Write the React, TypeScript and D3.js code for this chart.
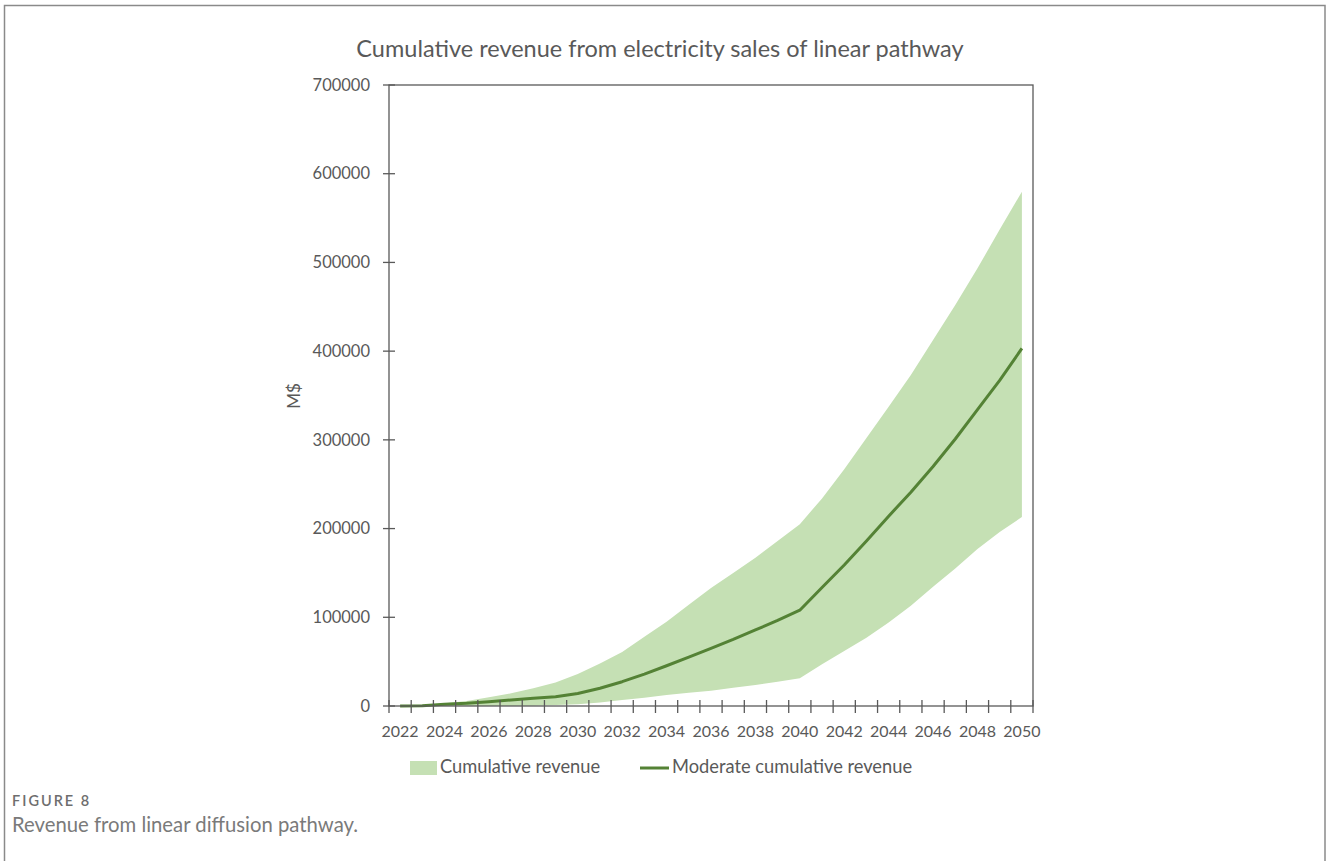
import React from "react";
import * as d3 from "d3";

const years: number[] = [
  2022, 2023, 2024, 2025, 2026, 2027, 2028, 2029, 2030, 2031, 2032, 2033, 2034, 2035, 2036,
  2037, 2038, 2039, 2040, 2041, 2042, 2043, 2044, 2045, 2046, 2047, 2048, 2049, 2050,
];
const upperRevenue: number[] = [
  0, 800, 3000, 5600, 9800, 14300, 20000, 26500, 36000, 48000, 61000, 78000, 95000, 114000, 133000,
  150000, 167000, 186000, 205000, 234000, 267000, 302000, 337400, 373000, 412600, 452000, 493400, 537000, 579800,
];
const lowerRevenue: number[] = [
  0, 0, 0, 0, 0, 0, 300, 1000, 2000, 4000, 6800, 9400, 12400, 15000, 17300,
  20600, 23700, 27400, 31200, 47000, 62000, 77000, 94000, 113000, 134500, 155000, 177000, 196000, 213000,
];
const moderateRevenue: number[] = [
  0, 300, 1900, 3000, 4900, 6800, 8600, 10500, 14000, 20000, 27400, 36000, 45400, 55000, 65000,
  75000, 85700, 96500, 108000, 133500, 159000, 186000, 214000, 241000, 270000, 301000, 334000, 367000, 403000,
];
const yTicks: number[] = [0, 100000, 200000, 300000, 400000, 500000, 600000, 700000];
const xLabelYears: number[] = [2022, 2024, 2026, 2028, 2030, 2032, 2034, 2036, 2038, 2040, 2042, 2044, 2046, 2048, 2050];

const title = "Cumulative revenue from electricity sales of linear pathway";
const yAxisTitle = "M$";
const legendArea = "Cumulative revenue";
const legendLine = "Moderate cumulative revenue";
const figLabel = "FIGURE 8";
const figCaption = "Revenue from linear diffusion pathway.";

const W = 1327;
const H = 861;
const left = 389;
const right = 1033;
const top = 85;
const bottom = 706;
const axisColor = "#595959";
const textColor = "#595959";
const font = "Lato, 'Open Sans', sans-serif";

export default function App() {
  const x = d3.scaleBand<number>().domain(years).range([left, right]).padding(0);
  const y = d3.scaleLinear().domain([0, 700000]).range([bottom, top]);
  const cx = (yr: number) => (x(yr) as number) + x.bandwidth() / 2;

  const rows = years.map((yr, i) => ({ yr, lo: lowerRevenue[i], hi: upperRevenue[i], mid: moderateRevenue[i] }));
  const areaGen = d3
    .area<(typeof rows)[number]>()
    .x((d) => cx(d.yr))
    .y0((d) => y(d.lo))
    .y1((d) => y(d.hi));
  const lineGen = d3
    .line<(typeof rows)[number]>()
    .x((d) => cx(d.yr))
    .y((d) => y(d.mid));

  const boundaries = [...years.map((yr) => x(yr) as number), right];

  return (
    <svg width={W} height={H} style={{ position: "absolute", left: 0, top: 0, background: "#fff" }} fontFamily={font}>
      <rect x={4.5} y={5.5} width={1320.5} height={880} fill="none" stroke="#8a8a8a" strokeWidth={1.5} />
      <text x={660} y={57} textAnchor="middle" fontSize={23.5} fill={textColor}>
        {title}
      </text>

      <path d={areaGen(rows) ?? ""} fill="#C5E0B4" />
      <path d={lineGen(rows) ?? ""} fill="none" stroke="#548235" strokeWidth={3} strokeLinejoin="round" />

      <rect x={left} y={top} width={right - left} height={bottom - top} fill="none" stroke={axisColor} strokeWidth={1.3} />

      {yTicks.map((t) => (
        <g key={t}>
          <line x1={left - 6} x2={left + 6} y1={y(t)} y2={y(t)} stroke={axisColor} strokeWidth={1.3} />
          <text x={370} y={y(t)} dy="0.35em" textAnchor="end" fontSize={16.5} fill={textColor}>
            {t}
          </text>
        </g>
      ))}
      {boundaries.map((b, i) => (
        <line key={i} x1={b} x2={b} y1={bottom - 6} y2={bottom + 7} stroke={axisColor} strokeWidth={1.3} />
      ))}
      {xLabelYears.map((yr) => (
        <text key={yr} x={cx(yr)} y={731} dy="0.35em" textAnchor="middle" fontSize={16} fill={textColor}>
          {yr}
        </text>
      ))}

      <text transform="translate(300,396) rotate(-90)" textAnchor="middle" fontSize={17} fill={textColor}>
        {yAxisTitle}
      </text>

      <rect x={410} y={761} width={27} height={14} fill="#C5E0B4" />
      <text x={440} y={767} dy="0.35em" fontSize={18.3} fill={textColor}>
        {legendArea}
      </text>
      <line x1={640} x2={669} y1={768} y2={768} stroke="#548235" strokeWidth={3} />
      <text x={672} y={767} dy="0.35em" fontSize={18.3} fill={textColor}>
        {legendLine}
      </text>

      <text x={12} y={806} fontSize={14.5} fontWeight={600} fill="#6e6e6e" letterSpacing={2}>
        {figLabel}
      </text>
      <text x={12} y={832} fontSize={20.3} fill="#7a7a7a">
        {figCaption}
      </text>
    </svg>
  );
}
